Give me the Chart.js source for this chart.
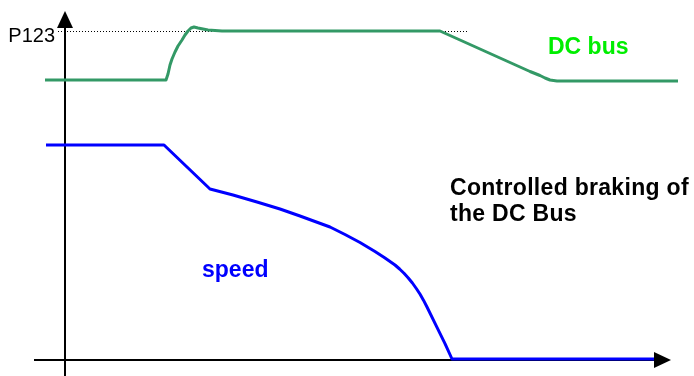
<!DOCTYPE html>
<html>
<head>
<meta charset="utf-8">
<title>DC bus braking</title>
<script src="https://cdn.jsdelivr.net/npm/chart.js@4.4.1/dist/chart.umd.min.js"></script>
<style>
  html, body { margin: 0; padding: 0; background: #fff; }
  canvas { display: block; }
</style>
</head>
<body>
<canvas id="brakeChart" width="694" height="376"></canvas>
<script>
// time axis runs from the y axis (t = 0); level 0 sits on the time axis
const dcBusTime  = [-20, 101, 103, 105, 107, 110, 113, 117, 120, 123, 126, 129, 133, 138, 143, 150, 157, 375, 465, 475, 480, 485, 492, 613];
const dcBusLevel = [280, 280, 286, 295, 301, 308, 314, 320, 325, 329, 332, 333, 332, 331, 330, 329.5, 329, 329, 288.5, 284.5, 282, 280, 279, 279];

const speedTime  = [-19, 99, 145, 168, 192, 215, 235, 250, 265, 280, 295, 310, 320, 330, 334.6, 339, 343.3, 347.4, 351.3, 355.1, 358.6, 362, 372, 380, 387, 590];
const speedLevel = [215, 215, 171, 165, 158, 151, 144, 138.5, 133, 125.5, 117.5, 108.5, 102, 95, 91, 86.7, 82, 77, 71.5, 65.7, 59.6, 53, 32.6, 16.3, 1, 1];

const p123Level = 329;
const yTickLabels = ['P123'];

const colors = {
  dcBus: '#339966',
  dcBusText: '#00ee00',
  speed: '#0000ff',
  axis: '#000000'
};

function toPoints(xs, ys) {
  return xs.map((x, i) => ({ x: x, y: ys[i] }));
}

// axes with arrow heads, the P123 reference line and the text notes
const sketchPlugin = {
  id: 'sketch',
  beforeDatasetsDraw(chart) {
    const ctx = chart.ctx;
    const xs = chart.scales.x, ys = chart.scales.y;
    const x0 = xs.getPixelForValue(0);
    const y0 = ys.getPixelForValue(0);
    const yRef = ys.getPixelForValue(p123Level);

    ctx.save();
    ctx.strokeStyle = colors.axis;
    ctx.lineWidth = 2;
    ctx.beginPath();
    ctx.moveTo(x0, ys.getPixelForValue(ys.min));
    ctx.lineTo(x0, 26);
    ctx.moveTo(xs.getPixelForValue(-31), y0);
    ctx.lineTo(656, y0);
    ctx.stroke();

    // dotted P123 level
    ctx.lineWidth = 1;
    ctx.setLineDash([1, 2]);
    ctx.beginPath();
    ctx.moveTo(x0 - 7, Math.round(yRef) + 0.5);
    ctx.lineTo(xs.getPixelForValue(403), Math.round(yRef) + 0.5);
    ctx.stroke();
    ctx.setLineDash([]);

    ctx.fillStyle = '#000';
    ctx.font = '20px "Liberation Sans", Arial, sans-serif';
    ctx.textAlign = 'right';
    ctx.textBaseline = 'alphabetic';
    ctx.fillText(yTickLabels[0], x0 - 10, yRef + 11);
    ctx.restore();
  },
  afterDatasetsDraw(chart) {
    const ctx = chart.ctx;
    const xs = chart.scales.x, ys = chart.scales.y;
    const x0 = xs.getPixelForValue(0);
    const y0 = ys.getPixelForValue(0);

    ctx.save();
    ctx.fillStyle = colors.axis;
    // y arrow
    ctx.beginPath();
    ctx.moveTo(x0, 11);
    ctx.lineTo(x0 - 8, 28);
    ctx.lineTo(x0 + 8, 28);
    ctx.closePath();
    ctx.fill();
    // x arrow
    ctx.beginPath();
    ctx.moveTo(671, y0);
    ctx.lineTo(654, y0 - 8);
    ctx.lineTo(654, y0 + 8);
    ctx.closePath();
    ctx.fill();

    ctx.textAlign = 'left';
    ctx.textBaseline = 'alphabetic';
    ctx.font = 'bold 23px "Liberation Sans", Arial, sans-serif';
    ctx.fillStyle = colors.dcBusText;
    ctx.fillText('DC bus', 548, 54);

    ctx.fillStyle = colors.speed;
    ctx.fillText('speed', 202, 277);

    ctx.fillStyle = '#000';
    ctx.letterSpacing = '0.3px';
    ctx.fillText('Controlled braking of', 450, 195);
    ctx.fillText('the DC Bus', 450, 221);
    ctx.restore();
  }
};

new Chart(document.getElementById('brakeChart'), {
  type: 'line',
  data: {
    datasets: [
      {
        label: 'DC bus',
        data: toPoints(dcBusTime, dcBusLevel),
        borderColor: colors.dcBus,
        borderWidth: 3,
        borderJoinStyle: 'round',
        pointRadius: 0,
        tension: 0,
        clip: false
      },
      {
        label: 'speed',
        data: toPoints(speedTime, speedLevel),
        borderColor: colors.speed,
        borderWidth: 3,
        borderJoinStyle: 'round',
        pointRadius: 0,
        tension: 0,
        clip: false
      }
    ]
  },
  options: {
    responsive: false,
    animation: false,
    devicePixelRatio: 1,
    layout: { padding: 0 },
    plugins: {
      legend: { display: false },
      tooltip: { enabled: false }
    },
    scales: {
      x: { type: 'linear', min: -65, max: 629, display: false },
      y: { type: 'linear', min: -16, max: 360, display: false }
    }
  },
  plugins: [sketchPlugin]
});
</script>
</body>
</html>
